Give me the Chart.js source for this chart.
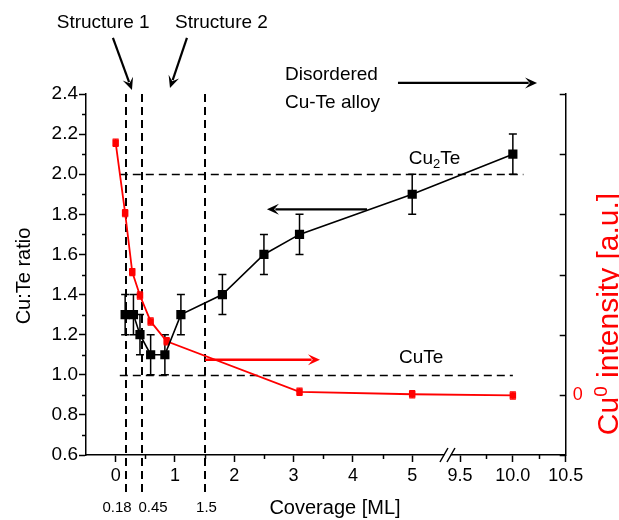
<!DOCTYPE html>
<html><head><meta charset="utf-8">
<script src="https://cdn.jsdelivr.net/npm/chart.js@4.4.0/dist/chart.umd.min.js"></script>
<style>html,body{margin:0;padding:0;background:#fff}#wrap{width:619px;height:520px}</style>
</head><body><div id="wrap"><canvas id="c" width="619" height="520"></canvas></div>
<script>
// ---------- data ----------
const ratioCoverage = [0.16, 0.30, 0.41, 0.59, 0.83, 1.10, 1.80, 2.50, 3.10, 5.00, 10.00];
const ratioValues   = [1.30, 1.30, 1.20, 1.10, 1.10, 1.30, 1.40, 1.60, 1.70, 1.90, 2.10];
const ratioErrors   = [0.10, 0.10, 0.10, 0.10, 0.10, 0.10, 0.10, 0.10, 0.10, 0.10, 0.10];
const cuCoverage    = [0.00, 0.16, 0.28, 0.41, 0.59, 0.86, 3.10, 5.00, 10.00];
const cuIntensity   = [4.19, 3.02, 2.04, 1.65, 1.22, 0.89, 0.05, 0.01, -0.01];
const cuErrors      = [0.06, 0.06, 0.06, 0.06, 0.06, 0.06, 0.06, 0.06, 0.06];
const xTickValues   = [0, 1, 2, 3, 4, 5, 9.5, 10.0, 10.5];
const xTickLabels   = ['0', '1', '2', '3', '4', '5', '9.5', '10.0', '10.5'];
const xMinorValues  = [0.5, 1.5, 2.5, 3.5, 4.5, 9.75, 10.25];
const structureCoverages = [0.18, 0.45, 1.5];
const structureLabels    = ['0.18', '0.45', '1.5'];
const phaseRatios   = [2.0, 1.0];
const phaseEnds     = [10.1, 10.0];

// broken x axis: 0..5 continuous, then 9.5..10.5 stretched
const BREAK_AT = 9.5, BREAK_DISP = 5.806, BREAK_STRETCH = 1.782;
function toDisp(x){ return x < 7 ? x : BREAK_DISP + (x - BREAK_AT) * BREAK_STRETCH; }

const FONT = '"Liberation Sans", Arial, Helvetica, sans-serif';

const deco = {
  id: 'deco',
  beforeDatasetsDraw(chart){
    const ctx = chart.ctx, xs = chart.scales.x, y = chart.scales.y, y2 = chart.scales.y2;
    const ca = chart.chartArea;
    ctx.save();
    ctx.strokeStyle = '#000'; ctx.lineWidth = 2; ctx.setLineDash([8,5]);
    structureCoverages.forEach(c => {
      const px = Math.round(xs.getPixelForValue(toDisp(c)));
      ctx.beginPath(); ctx.moveTo(px, ca.top); ctx.lineTo(px, ca.bottom + 38); ctx.stroke();
    });
    ctx.lineWidth = 1.5;
    phaseRatios.forEach((r, i) => {
      const py = Math.round(y.getPixelForValue(r)) + 0.5;
      ctx.beginPath(); ctx.moveTo(xs.getPixelForValue(toDisp(0.07)), py);
      ctx.lineTo(xs.getPixelForValue(toDisp(phaseEnds[i])), py); ctx.stroke();
    });
    ctx.setLineDash([]);
    function bars(xv, yv, ev, scale, color, half, lw){
      ctx.strokeStyle = color; ctx.lineWidth = lw;
      xv.forEach((x, i) => {
        const px = xs.getPixelForValue(toDisp(x));
        const t = scale.getPixelForValue(yv[i] + ev[i]);
        const b = scale.getPixelForValue(yv[i] - ev[i]);
        ctx.beginPath();
        ctx.moveTo(px, t); ctx.lineTo(px, b);
        ctx.moveTo(px - half, t); ctx.lineTo(px + half, t);
        ctx.moveTo(px - half, b); ctx.lineTo(px + half, b);
        ctx.stroke();
      });
    }
    bars(ratioCoverage, ratioValues, ratioErrors, y, '#000', 4, 1.5);
    bars(cuCoverage, cuIntensity, cuErrors, y2, '#ff0000', 3, 1.2);
    ctx.restore();
  },
  afterDraw(chart){
    const ctx = chart.ctx, xs = chart.scales.x, y = chart.scales.y, y2 = chart.scales.y2;
    const ca = chart.chartArea;
    const P = (xd, yl) => [xs.getPixelForValue(xd), y.getPixelForValue(yl)];
    ctx.save();
    ctx.strokeStyle = '#000'; ctx.lineWidth = 1.5;
    xMinorValues.forEach(v => {
      const px = Math.round(xs.getPixelForValue(toDisp(v))) + 0.5;
      ctx.beginPath(); ctx.moveTo(px, ca.bottom); ctx.lineTo(px, ca.bottom + 4); ctx.stroke();
    });
    for (let v = 0.7; v < 2.4; v += 0.2) {
      const py = Math.round(y.getPixelForValue(v)) + 0.5;
      ctx.beginPath(); ctx.moveTo(ca.left, py); ctx.lineTo(ca.left - 4, py); ctx.stroke();
    }
    y2.ticks.forEach(t => {
      const py = Math.round(y2.getPixelForValue(t.value)) + 0.5;
      ctx.beginPath(); ctx.moveTo(ca.right, py); ctx.lineTo(ca.right - 6, py); ctx.stroke();
    });
    const bx = xs.getPixelForValue(5.62), by = ca.bottom;
    ctx.fillStyle = '#fff';
    ctx.beginPath(); ctx.moveTo(bx-8, by+7); ctx.lineTo(bx-1, by-7); ctx.lineTo(bx+5, by-7); ctx.lineTo(bx-2, by+7); ctx.closePath(); ctx.fill();
    ctx.beginPath();
    ctx.moveTo(bx-9, by+7); ctx.lineTo(bx-1, by-7);
    ctx.moveTo(bx-2, by+7); ctx.lineTo(bx+6, by-7);
    ctx.stroke();

    ctx.fillStyle = '#000'; ctx.font = '15px ' + FONT; ctx.textAlign = 'center'; ctx.textBaseline = 'middle';
    const lblX = [117, 153, 206.5];
    structureLabels.forEach((s, i) => ctx.fillText(s, lblX[i], 508));

    ctx.font = '20px ' + FONT;
    ctx.fillText('Coverage [ML]', 335, 508);
    ctx.save(); ctx.translate(24, 276); ctx.rotate(-Math.PI/2);
    ctx.fillText('Cu:Te ratio', 0, 0); ctx.restore();

    // right title (large, baseline at the picture's right edge)
    ctx.save(); ctx.translate(618, 314); ctx.rotate(-Math.PI/2);
    ctx.fillStyle = '#ff0000'; ctx.textAlign = 'left'; ctx.textBaseline = 'alphabetic';
    const fBig = '30px ' + FONT, fSup = '19px ' + FONT;
    ctx.font = fBig; const r1 = ctx.measureText('Cu').width, r3 = ctx.measureText(' intensity [a.u.]').width;
    ctx.font = fSup; const r2 = ctx.measureText('0').width;
    const rx = -(r1 + r2 + r3) / 2;
    ctx.font = fBig; ctx.fillText('Cu', rx, 0);
    ctx.font = fSup; ctx.fillText('0', rx + r1, -11);
    ctx.font = fBig; ctx.fillText(' intensity [a.u.]', rx + r1 + r2, 0);
    ctx.restore();

    ctx.fillStyle = '#000'; ctx.font = '19px ' + FONT; ctx.textAlign = 'center'; ctx.textBaseline = 'middle';
    let p = P(-0.21, 2.755); ctx.fillText('Structure 1', p[0], p[1]);
    p = P(1.784, 2.755); ctx.fillText('Structure 2', p[0], p[1]);
    ctx.textAlign = 'left';
    p = P(2.855, 2.495); ctx.fillText('Disordered', p[0], p[1]);
    p = P(2.855, 2.355); ctx.fillText('Cu-Te alloy', p[0], p[1]);
    ctx.textAlign = 'center';
    p = P(5.15, 1.085); ctx.fillText('CuTe', p[0], p[1]);
    p = P(5.376, 2.075);
    ctx.font = '19px ' + FONT; const a1 = ctx.measureText('Cu').width, a3 = ctx.measureText('Te').width;
    ctx.font = '13px ' + FONT; const a2 = ctx.measureText('2').width;
    ctx.textAlign = 'left';
    let sx = p[0] - (a1 + a2 + a3) / 2;
    ctx.font = '19px ' + FONT; ctx.fillText('Cu', sx, p[1]);
    ctx.font = '13px ' + FONT; ctx.fillText('2', sx + a1, p[1] + 5);
    ctx.font = '19px ' + FONT; ctx.fillText('Te', sx + a1 + a2, p[1]);

    function arrow(x1, y1, x2, y2_, color, lw){
      const a = P(x1, y1), b = P(x2, y2_);
      const ang = Math.atan2(b[1]-a[1], b[0]-a[0]);
      const L = 12, W = 5.5;
      ctx.strokeStyle = color; ctx.fillStyle = color; ctx.lineWidth = lw;
      ctx.beginPath(); ctx.moveTo(a[0], a[1]);
      ctx.lineTo(b[0] - Math.cos(ang)*L*0.7, b[1] - Math.sin(ang)*L*0.7); ctx.stroke();
      ctx.beginPath();
      ctx.moveTo(b[0], b[1]);
      ctx.lineTo(b[0] - Math.cos(ang)*L + Math.sin(ang)*W, b[1] - Math.sin(ang)*L - Math.cos(ang)*W);
      ctx.lineTo(b[0] - Math.cos(ang)*L*0.6, b[1] - Math.sin(ang)*L*0.6);
      ctx.lineTo(b[0] - Math.cos(ang)*L - Math.sin(ang)*W, b[1] - Math.sin(ang)*L + Math.cos(ang)*W);
      ctx.closePath(); ctx.fill();
    }
    arrow(-0.046, 2.68, 0.275, 2.42, '#000', 2.2);
    arrow(1.202, 2.68, 0.916, 2.43, '#000', 2.2);
    arrow(4.76, 2.455, 7.105, 2.455, '#000', 2.2);
    arrow(4.238, 1.825, 2.551, 1.825, '#000', 2.2);
    arrow(1.506, 1.075, 3.445, 1.075, '#ff0000', 2.6);
    ctx.restore();
  }
};

new Chart(document.getElementById('c'), {
  type: 'scatter',
  data: {
    datasets: [
      {
        label: 'Cu:Te ratio',
        data: ratioCoverage.map((x, i) => ({x: toDisp(x), y: ratioValues[i]})),
        yAxisID: 'y', showLine: true, borderColor: '#000', borderWidth: 1.6,
        backgroundColor: '#000', pointBackgroundColor: '#000', pointBorderColor: '#000',
        pointStyle: 'rect', pointRadius: 6.5, pointBorderWidth: 0, pointHoverRadius: 6.5
      },
      {
        label: 'Cu0 intensity',
        data: cuCoverage.map((x, i) => ({x: toDisp(x), y: cuIntensity[i]})),
        yAxisID: 'y2', showLine: true, borderColor: '#ff0000', borderWidth: 1.8,
        backgroundColor: '#ff0000', pointBackgroundColor: '#ff0000', pointBorderColor: '#ff0000',
        pointStyle: 'rect', pointRadius: 4.6, pointBorderWidth: 0, pointHoverRadius: 4.6
      }
    ]
  },
  options: {
    responsive: false, animation: false, devicePixelRatio: 1,
    layout: { padding: { top: 94, left: 0, right: 0, bottom: 0 } },
    plugins: { legend: { display: false }, tooltip: { enabled: false } },
    scales: {
      x: {
        type: 'linear', min: -0.5, max: toDisp(10.5),
        afterBuildTicks: s => { s.ticks = xTickValues.map(v => ({ value: toDisp(v) })); },
        afterFit: s => { s.height = 65; },
        ticks: { callback: (v, i) => xTickLabels[i], color: '#000', font: { size: 18, family: FONT },
                 autoSkip: false, maxRotation: 0, padding: 3 },
        grid: { drawOnChartArea: false, drawTicks: true, tickLength: 7, tickColor: '#000', tickWidth: 1.5 },
        border: { display: true, color: '#000', width: 1.5 }
      },
      y: {
        type: 'linear', position: 'left', min: 0.6, max: 2.4,
        afterFit: s => { s.width = 86; },
        ticks: { stepSize: 0.2, callback: v => v.toFixed(1), color: '#000', font: { size: 19, family: FONT }, padding: 1 },
        grid: { drawOnChartArea: false, drawTicks: true, tickLength: 7, tickColor: '#000', tickWidth: 1.5 },
        border: { display: true, color: '#000', width: 1.5 }
      },
      y2: {
        type: 'linear', position: 'right', min: -1, max: 5,
        afterFit: s => { s.width = 53.3; },
        ticks: { stepSize: 1, callback: v => (v === 0 ? '0' : ''), color: '#ff0000', font: { size: 18, family: FONT }, padding: 7 },
        grid: { drawOnChartArea: false, drawTicks: false },
        border: { display: true, color: '#000', width: 1.5 }
      }
    }
  },
  plugins: [deco]
});
</script></body></html>
